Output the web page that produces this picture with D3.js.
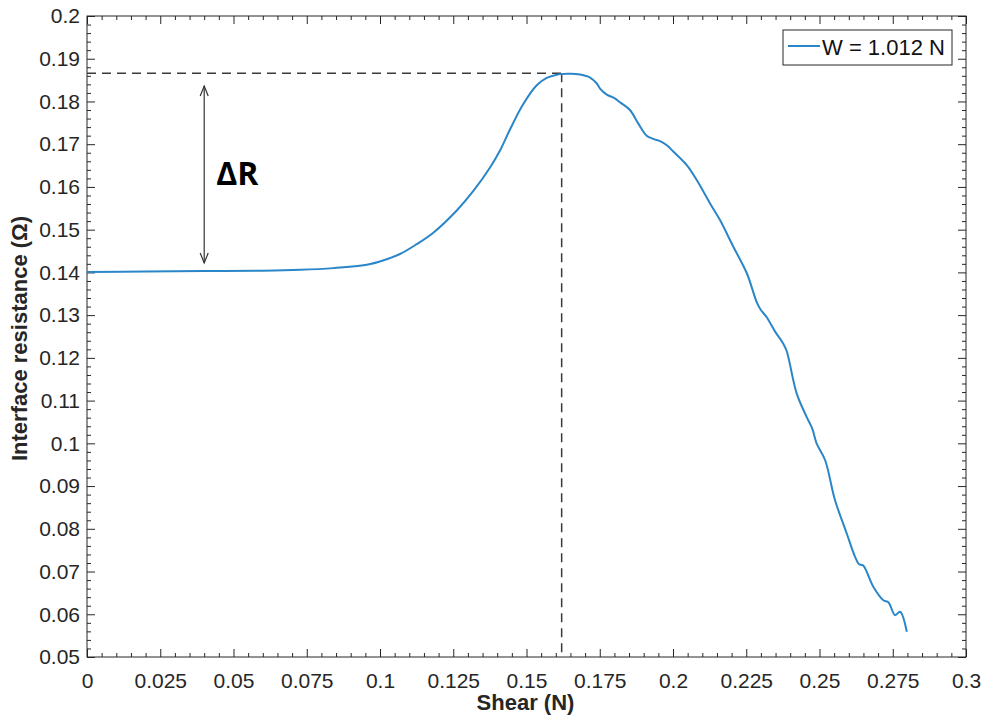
<!DOCTYPE html>
<html>
<head>
<meta charset="utf-8">
<script src="https://cdn.jsdelivr.net/npm/d3@7"></script>
<style>
  html, body { margin: 0; padding: 0; background: #fff; }
  svg { display: block; }
  text { font-family: "Liberation Sans", Arial, sans-serif; }
</style>
</head>
<body>
<svg id="chart" width="986" height="720"></svg>
<script>
// ---- data ----
const shear = [0, 0.02, 0.04, 0.06, 0.0727, 0.084, 0.0955, 0.1010, 0.1068, 0.1125, 0.1182, 0.1262, 0.1318, 0.1375, 0.141, 0.1444, 0.1489, 0.1535, 0.1569, 0.1595, 0.1614, 0.1650, 0.1683, 0.1717, 0.1740, 0.1751, 0.1774, 0.1800, 0.1819, 0.1853, 0.1880, 0.1910, 0.1935, 0.1956, 0.1980, 0.2001, 0.2047, 0.2081, 0.2126, 0.2160, 0.2206, 0.2252, 0.2286, 0.2300, 0.2320, 0.2348, 0.2375, 0.2388, 0.2422, 0.2456, 0.2475, 0.2490, 0.2519, 0.2553, 0.2593, 0.2621, 0.2635, 0.2649, 0.2684, 0.2718, 0.2735, 0.2758, 0.2775, 0.2798];
const resistance = [0.1401, 0.1402, 0.1403, 0.1404, 0.1406, 0.1410, 0.1418, 0.1428, 0.1443, 0.1466, 0.1493, 0.1545, 0.1590, 0.1645, 0.1686, 0.1735, 0.1794, 0.1838, 0.1855, 0.1861, 0.1864, 0.1865, 0.1863, 0.1856, 0.1842, 0.1830, 0.1816, 0.1808, 0.1798, 0.1780, 0.1750, 0.1720, 0.1712, 0.1707, 0.1697, 0.1683, 0.1651, 0.1616, 0.1562, 0.1523, 0.1460, 0.1398, 0.1330, 0.1312, 0.1295, 0.1262, 0.1235, 0.1216, 0.1117, 0.1062, 0.1035, 0.1000, 0.0961, 0.0867, 0.0789, 0.0735, 0.0717, 0.0714, 0.0664, 0.0633, 0.0628, 0.0598, 0.0606, 0.0559];

const xTickValues = [0, 0.025, 0.05, 0.075, 0.1, 0.125, 0.15, 0.175, 0.2, 0.225, 0.25, 0.275, 0.3];
const xTickLabels = ["0", "0.025", "0.05", "0.075", "0.1", "0.125", "0.15", "0.175", "0.2", "0.225", "0.25", "0.275", "0.3"];
const yTickValues = [0.05, 0.06, 0.07, 0.08, 0.09, 0.1, 0.11, 0.12, 0.13, 0.14, 0.15, 0.16, 0.17, 0.18, 0.19, 0.2];
const yTickLabels = ["0.05", "0.06", "0.07", "0.08", "0.09", "0.1", "0.11", "0.12", "0.13", "0.14", "0.15", "0.16", "0.17", "0.18", "0.19", "0.2"];

const peakShear = [0.162];
const peakResistance = [0.1866];
const arrowShear = [0.04];
const arrowRange = [0.1422, 0.1836];
const seriesName = ["W = 1.012 N"];
const xLabel = "Shear (N)";
const yLabel = "Interface resistance (Ω)";
const annotationText = "ΔR";

// ---- layout ----
const L = 87, R = 966, T = 16, B = 657;
const axisColor = "#262626";
const lineColor = "#2a86c8";

const svg = d3.select("#chart");
const x = d3.scaleLinear().domain([0, 0.3]).range([L, R]);
const y = d3.scaleLinear().domain([0.05, 0.2]).range([B, T]);

const xMinor = d3.range(0, 61).map(i => i * 0.005).filter(v => !xTickValues.some(t => Math.abs(t - v) < 1e-9));
const yMinor = d3.range(0, 76).map(i => 0.05 + i * 0.002).filter(v => !yTickValues.some(t => Math.abs(t - v) < 1e-9));

function styleAxis(g) {
  g.select(".domain").remove();
  g.selectAll("line").attr("stroke", axisColor).attr("stroke-width", 1);
  g.selectAll("text").attr("fill", axisColor).attr("font-size", 21);
}

// bottom axis
svg.append("g").attr("transform", `translate(0,${B})`)
  .call(d3.axisBottom(x).tickValues(xTickValues).tickFormat((d, i) => xTickLabels[i]).tickSize(-8).tickPadding(16))
  .call(styleAxis);
svg.append("g").attr("transform", `translate(0,${B})`)
  .call(d3.axisBottom(x).tickValues(xMinor).tickFormat("").tickSize(-4))
  .call(styleAxis);
// top axis
svg.append("g").attr("transform", `translate(0,${T})`)
  .call(d3.axisTop(x).tickValues(xTickValues).tickFormat("").tickSize(-8))
  .call(styleAxis);
svg.append("g").attr("transform", `translate(0,${T})`)
  .call(d3.axisTop(x).tickValues(xMinor).tickFormat("").tickSize(-4))
  .call(styleAxis);
// left axis
svg.append("g").attr("transform", `translate(${L},0)`)
  .call(d3.axisLeft(y).tickValues(yTickValues).tickFormat((d, i) => yTickLabels[i]).tickSize(-8).tickPadding(7))
  .call(styleAxis);
svg.append("g").attr("transform", `translate(${L},0)`)
  .call(d3.axisLeft(y).tickValues(yMinor).tickFormat("").tickSize(-4))
  .call(styleAxis);
// right axis
svg.append("g").attr("transform", `translate(${R},0)`)
  .call(d3.axisRight(y).tickValues(yTickValues).tickFormat("").tickSize(-8))
  .call(styleAxis);
svg.append("g").attr("transform", `translate(${R},0)`)
  .call(d3.axisRight(y).tickValues(yMinor).tickFormat("").tickSize(-4))
  .call(styleAxis);

// box
svg.append("rect").attr("x", L).attr("y", T).attr("width", R - L).attr("height", B - T)
  .attr("fill", "none").attr("stroke", axisColor).attr("stroke-width", 1);

// dashed guide lines
svg.append("line")
  .attr("x1", x(0)).attr("x2", x(peakShear[0]))
  .attr("y1", y(peakResistance[0])).attr("y2", y(peakResistance[0]))
  .attr("stroke", "#3a3a3a").attr("stroke-width", 1.5).attr("stroke-dasharray", "9,6");
svg.append("line")
  .attr("x1", x(peakShear[0])).attr("x2", x(peakShear[0]))
  .attr("y1", y(peakResistance[0])).attr("y2", y(0.05))
  .attr("stroke", "#3a3a3a").attr("stroke-width", 1.5).attr("stroke-dasharray", "9,6");

// data line
const data = shear.map((s, i) => [s, resistance[i]]);
svg.append("path").datum(data)
  .attr("fill", "none").attr("stroke", lineColor).attr("stroke-width", 2)
  .attr("stroke-linejoin", "round")
  .attr("d", d3.line().curve(d3.curveCatmullRom.alpha(0.5)).x(d => x(d[0])).y(d => y(d[1])));

// double arrow
const ax = x(arrowShear[0]);
const ay1 = y(arrowRange[1]), ay2 = y(arrowRange[0]);
const ag = svg.append("g").attr("stroke", "#333").attr("stroke-width", 1.2).attr("fill", "none");
ag.append("line").attr("x1", ax).attr("x2", ax).attr("y1", ay1).attr("y2", ay2);
ag.append("path").attr("d", `M${ax - 4},${ay1 + 10} L${ax},${ay1} L${ax + 4},${ay1 + 10}`);
ag.append("path").attr("d", `M${ax - 4},${ay2 - 10} L${ax},${ay2} L${ax + 4},${ay2 - 10}`);

svg.append("text").attr("x", ax + 12).attr("y", 185)
  .style("font-family", "'Open Sans', 'Noto Sans', sans-serif")
  .attr("font-weight", 700).attr("font-size", 32).attr("fill", "#000")
  .text(annotationText);

// axis labels
svg.append("text").attr("x", (L + R) / 2 - 1).attr("y", 710)
  .attr("text-anchor", "middle").attr("font-weight", 700).attr("font-size", 22)
  .attr("fill", axisColor).text(xLabel);
svg.append("text").attr("transform", `translate(27,${(T + B) / 2 + 2}) rotate(-90)`)
  .attr("text-anchor", "middle").attr("font-weight", 700).attr("font-size", 22)
  .attr("fill", axisColor).text(yLabel);

// legend
const lg = svg.append("g");
lg.append("rect").attr("x", 783).attr("y", 30).attr("width", 169).attr("height", 35)
  .attr("fill", "#fff").attr("stroke", axisColor).attr("stroke-width", 1);
lg.append("line").attr("x1", 788).attr("x2", 820).attr("y1", 46).attr("y2", 46)
  .attr("stroke", lineColor).attr("stroke-width", 2);
lg.append("text").attr("x", 822).attr("y", 55).attr("font-size", 22).attr("fill", "#111")
  .text(seriesName[0]);
</script>
</body>
</html>
